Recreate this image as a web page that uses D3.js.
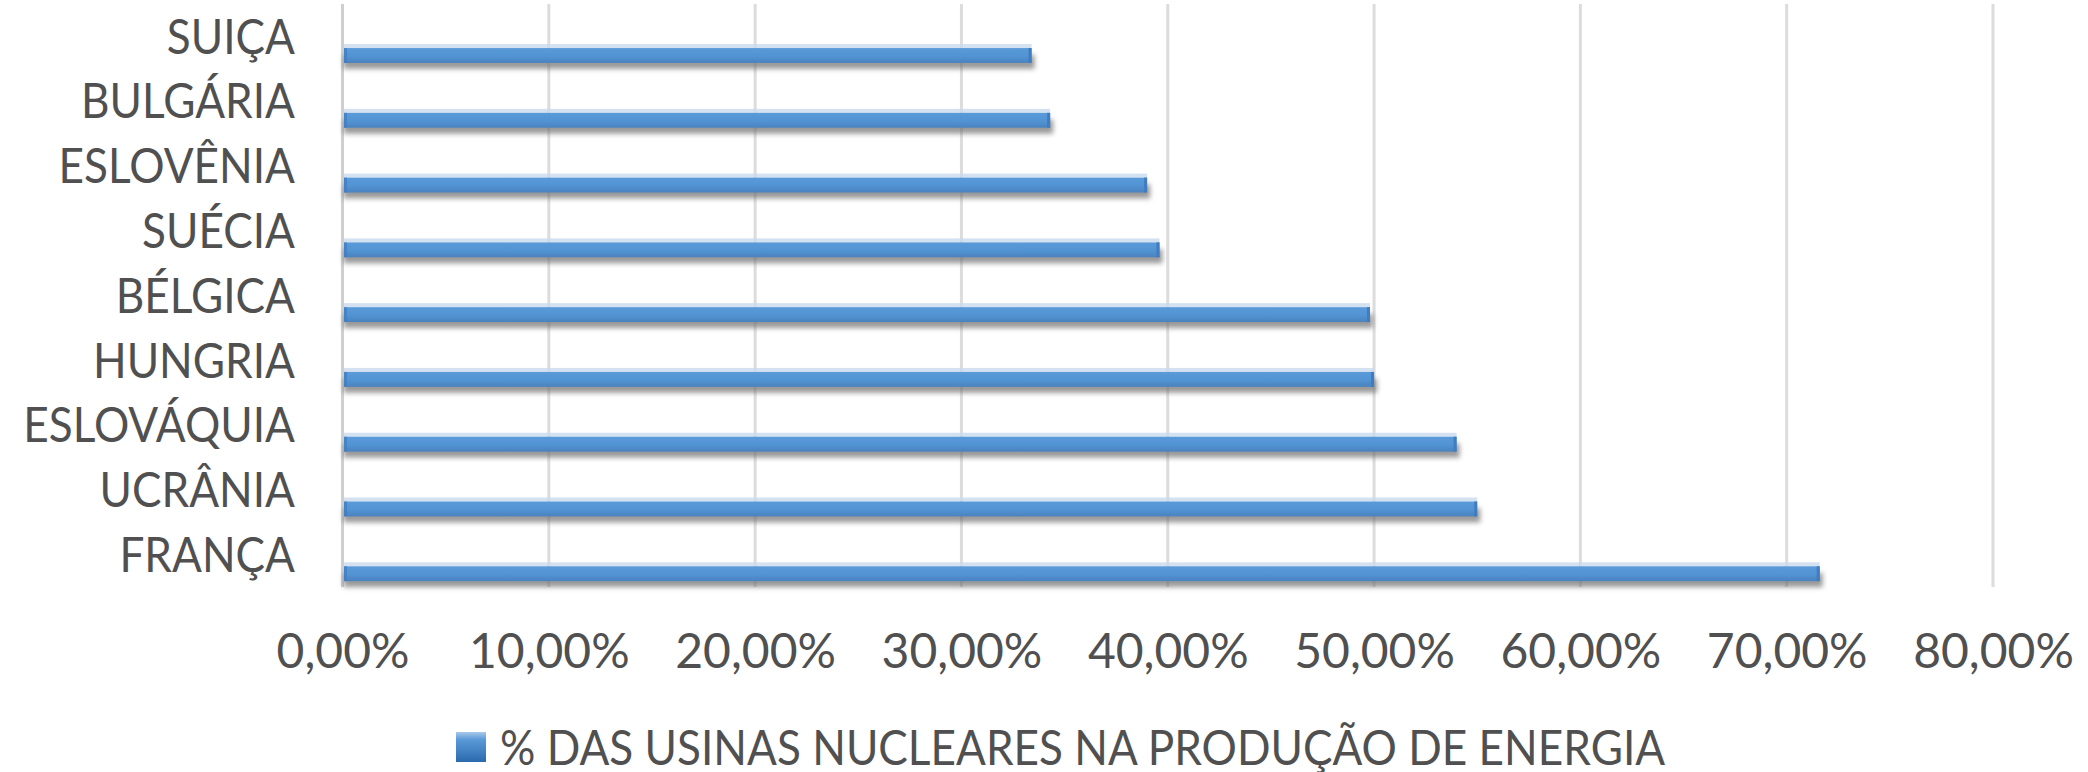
<!DOCTYPE html>
<html>
<head>
<meta charset="utf-8">
<script src="https://cdn.jsdelivr.net/npm/d3@7"></script>
<style>
  html, body { margin: 0; padding: 0; background: #ffffff; }
  svg { display: block; }
  text { font-family: Lato, "Open Sans", sans-serif; fill: #505050; }
</style>
</head>
<body>
<svg id="chart" width="2088" height="772"></svg>
<script>
// ---- data ----
const categories = ["SUIÇA", "BULGÁRIA", "ESLOVÊNIA", "SUÉCIA", "BÉLGICA", "HUNGRIA", "ESLOVÁQUIA", "UCRÂNIA", "FRANÇA"];
const values = [0.334, 0.343, 0.390, 0.396, 0.498, 0.500, 0.540, 0.550, 0.716];
const xTicks = [0, 0.1, 0.2, 0.3, 0.4, 0.5, 0.6, 0.7, 0.8];
const seriesName = "% DAS USINAS NUCLEARES NA PRODUÇÃO DE ENERGIA";

// ---- layout ----
const plot = { left: 342.5, right: 1993, top: 4, bottom: 587 };
const fontSize = 48;
const squeeze = 0.92;

const svg = d3.select("#chart");
const defs = svg.append("defs");

const grad = defs.append("linearGradient").attr("id", "barGrad")
  .attr("x1", 0).attr("y1", 0).attr("x2", 0).attr("y2", 1);
grad.append("stop").attr("offset", "0%").attr("stop-color", "#5a9ad9");
grad.append("stop").attr("offset", "55%").attr("stop-color", "#5293d3");
grad.append("stop").attr("offset", "100%").attr("stop-color", "#4a82bf");

const legGrad = defs.append("linearGradient").attr("id", "legGrad")
  .attr("x1", 0).attr("y1", 0).attr("x2", 0).attr("y2", 1);
legGrad.append("stop").attr("offset", "0%").attr("stop-color", "#a9c8ea");
legGrad.append("stop").attr("offset", "25%").attr("stop-color", "#5b9ad8");
legGrad.append("stop").attr("offset", "100%").attr("stop-color", "#2a69ad");

const shadow = defs.append("filter").attr("id", "shadow")
  .attr("x", "-5%").attr("y", "-100%").attr("width", "110%").attr("height", "300%");
shadow.append("feGaussianBlur").attr("stdDeviation", 2.5);

const locale = d3.formatLocale({ decimal: ",", thousands: ".", grouping: [3], currency: ["R$", ""] });
const pct = locale.format(".2%");

const x = d3.scaleLinear().domain([0, 0.8]).range([plot.left, plot.right]);
const y = d3.scaleBand().domain(categories).range([plot.top, plot.bottom]).padding(0);

// gridlines
svg.append("g").selectAll("line").data(xTicks).join("line")
  .attr("x1", d => x(d)).attr("x2", d => x(d))
  .attr("y1", plot.top).attr("y2", plot.bottom)
  .attr("stroke", d => d === 0 ? "#cfcfcf" : "#dcdcdc")
  .attr("stroke-width", 3);

const bw = y.bandwidth();
const barTop = c => y(c) + bw * 0.68;
const barH = bw * 0.23;

const rows = categories.map((c, i) => ({ c, v: values[i] }));

// shadows
svg.append("g").selectAll("rect").data(rows).join("rect")
  .attr("x", x(0) + 1).attr("y", d => barTop(d.c) + barH * 0.45)
  .attr("width", d => x(d.v) - x(0) + 2)
  .attr("height", barH * 0.95)
  .attr("fill", "#6e6e6e").attr("opacity", 0.7)
  .attr("filter", "url(#shadow)");

// top highlights
svg.append("g").selectAll("rect").data(rows).join("rect")
  .attr("x", x(0) + 1.5).attr("y", d => barTop(d.c) - 4)
  .attr("width", d => x(d.v) - x(0) - 1.5)
  .attr("height", 4)
  .attr("fill", "#c9daee").attr("opacity", 0.8);

// bars
svg.append("g").selectAll("rect").data(rows).join("rect")
  .attr("x", x(0) + 1.5).attr("y", d => barTop(d.c))
  .attr("width", d => x(d.v) - x(0) - 1.5)
  .attr("height", barH)
  .attr("fill", "url(#barGrad)");

// bar end caps
svg.append("g").selectAll("rect").data(rows).join("rect")
  .attr("x", d => x(d.v) - 3).attr("y", d => barTop(d.c))
  .attr("width", 3).attr("height", barH)
  .attr("fill", "#3f7cc0");
svg.append("g").selectAll("rect").data(rows).join("rect")
  .attr("x", x(0) + 1.5).attr("y", d => barTop(d.c))
  .attr("width", 3).attr("height", barH)
  .attr("fill", "#3f7cc0").attr("opacity", 0.7);

// x axis labels
const xAxis = d3.axisBottom(x).tickValues(xTicks).tickFormat(pct).tickSize(0).tickPadding(0);
const gx = svg.append("g").attr("transform", `translate(0, 668)`).call(xAxis);
gx.select(".domain").remove();
gx.selectAll("text").attr("dy", 0).attr("font-size", fontSize)
  .attr("font-family", "Lato, sans-serif").attr("fill", "#505050");

// y axis labels
const labelPad = plot.left - 295;
const yAxis = d3.axisLeft(y).tickSize(0).tickPadding(0);
const gy = svg.append("g").attr("transform", `translate(${plot.left}, 0)`).call(yAxis);
gy.select(".domain").remove();
gy.selectAll("text").attr("x", 0).attr("font-size", fontSize).attr("dy", "0.36em")
  .attr("transform", `translate(${-labelPad},0) scale(${squeeze},1)`)
  .attr("font-family", "Lato, sans-serif").attr("fill", "#505050");

// legend
const leg = svg.append("g");
leg.append("rect").attr("x", 456).attr("y", 732).attr("width", 30).attr("height", 30)
  .attr("fill", "url(#legGrad)");
leg.append("text").attr("transform", `translate(500,765) scale(${squeeze},1)`)
  .attr("font-size", fontSize).text(seriesName);
</script>
</body>
</html>
